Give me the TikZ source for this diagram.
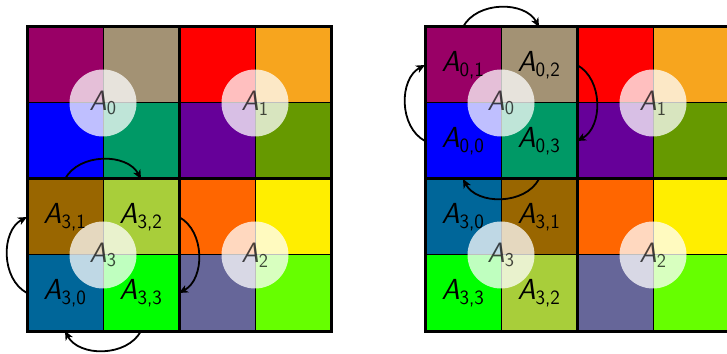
\documentclass[tikz,border=0pt]{standalone}
\usetikzlibrary{arrows.meta}
\definecolor{cPurp}{HTML}{990066}
\definecolor{cTan}{HTML}{A39274}
\definecolor{cBlue}{HTML}{0000FF}
\definecolor{cTeal}{HTML}{009966}
\definecolor{cRed}{HTML}{FF0000}
\definecolor{cOrng}{HTML}{F7A51E}
\definecolor{cVio}{HTML}{660099}
\definecolor{cOlive}{HTML}{669900}
\definecolor{cOrange}{HTML}{FF6600}
\definecolor{cYel}{HTML}{FFEE00}
\definecolor{cSlate}{HTML}{666699}
\definecolor{cLime}{HTML}{66FF00}
\definecolor{cBrown}{HTML}{996600}
\definecolor{cYgrn}{HTML}{A8CE3A}
\definecolor{cSblue}{HTML}{006699}
\definecolor{cBgrn}{HTML}{00FF00}
% #1 name prefix, #2 x, #3 y (lower left), #4 tl, #5 tr, #6 bl, #7 br
\newcommand\quadcells[7]{%
  \node[cellbox,fill=#4,anchor=south west] (#1tl) at (#2,#3+76) {};
  \node[cellbox,fill=#5,anchor=south west] (#1tr) at (#2+76,#3+76) {};
  \node[cellbox,fill=#6,anchor=south west] (#1bl) at (#2,#3) {};
  \node[cellbox,fill=#7,anchor=south west] (#1br) at (#2+76,#3) {};
}
\newcommand\Alab[1]{\textsf{\textit{A}\textsubscript{#1}}}
\begin{document}
\begin{tikzpicture}[x=1pt,y=1pt,
  cellbox/.style={minimum size=76pt,inner sep=0pt,outer sep=0pt,draw=black,line width=1pt},
  quadline/.style={draw=black,line width=3pt},
  blob/.style={circle,minimum size=67pt,inner sep=0pt,fill=white,fill opacity=0.75,text opacity=0.7,
     font=\fontsize{28}{32}\selectfont},
  clab/.style={inner sep=0pt,font=\fontsize{29}{32}\selectfont},
  cyc/.style={line width=1.8pt,bend left=62,-{Stealth[length=9pt,width=8pt,inset=2.5pt]}}]
\useasboundingbox (0,0) rectangle (727,353);
\clip (0,0) rectangle (727,353);
% left grid
\quadcells{LQ0}{27}{174}{cPurp}{cTan}{cBlue}{cTeal}
\quadcells{LQ1}{179}{174}{cRed}{cOrng}{cVio}{cOlive}
\quadcells{LQ2}{179}{22}{cOrange}{cYel}{cSlate}{cLime}
\quadcells{LQ3}{27}{22}{cBrown}{cYgrn}{cSblue}{cBgrn}
% right grid
\quadcells{RQ0}{425}{174}{cPurp}{cTan}{cBlue}{cTeal}
\quadcells{RQ1}{577}{174}{cRed}{cOrng}{cVio}{cOlive}
\quadcells{RQ2}{577}{22}{cOrange}{cYel}{cSlate}{cLime}
\quadcells{RQ3}{425}{22}{cSblue}{cBrown}{cBgrn}{cYgrn}
% thick quadrant borders
\foreach \g in {L,R}{
  \foreach \q in {0,1,2,3}{
    \draw[quadline] (\g Q\q tl.north west) rectangle (\g Q\q br.south east);
  }
}
% circles
\foreach \g in {L,R}{
  \foreach \q in {0,1,2,3}{
    \node[blob] (\g C\q) at (\g Q\q tl.south east) {\Alab{\q}};
  }
}
% cell labels
\node[clab] (l31) at (LQ3tl) {\Alab{3,1}};
\node[clab] (l32) at (LQ3tr) {\Alab{3,2}};
\node[clab] (l30) at (LQ3bl) {\Alab{3,0}};
\node[clab] (l33) at (LQ3br) {\Alab{3,3}};
\node[clab] (r01) at (RQ0tl) {\Alab{0,1}};
\node[clab] (r02) at (RQ0tr) {\Alab{0,2}};
\node[clab] (r00) at (RQ0bl) {\Alab{0,0}};
\node[clab] (r03) at (RQ0br) {\Alab{0,3}};
\node[clab] (r30) at (RQ3tl) {\Alab{3,0}};
\node[clab] (r31) at (RQ3tr) {\Alab{3,1}};
\node[clab] (r33) at (RQ3bl) {\Alab{3,3}};
\node[clab] (r32) at (RQ3br) {\Alab{3,2}};
% cycle arrows, left grid
\draw[cyc] (LQ3tl.north) to (LQ3tr.north);
\draw[cyc] (LQ3tr.east) to (LQ3br.east);
\draw[cyc] (LQ3br.south) to (LQ3bl.south);
\draw[cyc] (LQ3bl.west) to (LQ3tl.west);
% cycle arrows, right grid
\draw[cyc] (RQ0tl.north) to (RQ0tr.north);
\draw[cyc] (RQ0tr.east) to (RQ0br.east);
\draw[cyc] (RQ0br.south) to (RQ0bl.south);
\draw[cyc] (RQ0bl.west) to (RQ0tl.west);
\end{tikzpicture}
\end{document}
